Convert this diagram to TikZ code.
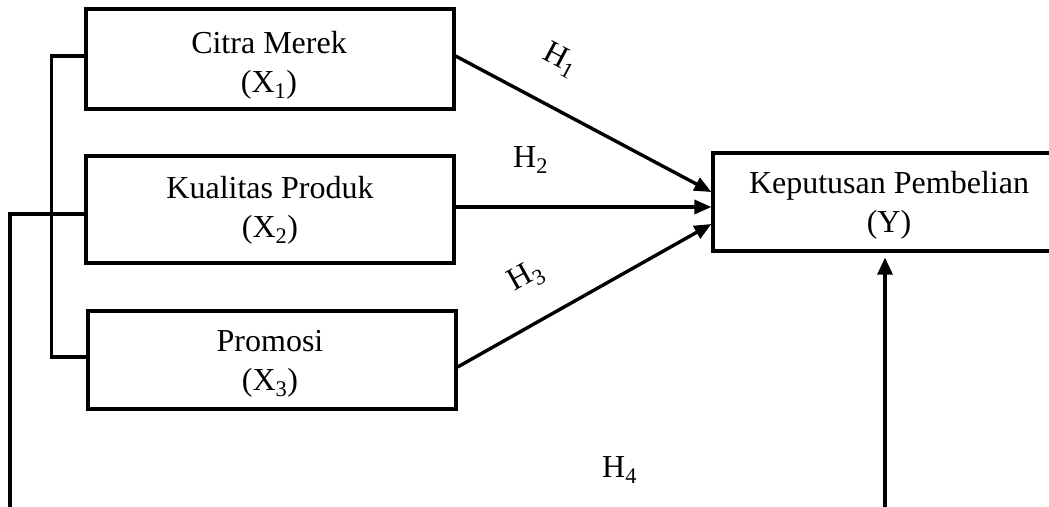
\documentclass[tikz,border=0pt]{standalone}
\usepackage{fontspec}
\setmainfont{Liberation Serif}
\usetikzlibrary{arrows.meta,calc}
\begin{document}
\begin{tikzpicture}[x=1pt,y=-1pt,
  box/.style={draw, rectangle, line width=3.2pt, minimum width=368pt, inner sep=0pt},
  txt/.style={align=center, font=\fontsize{32}{39}\selectfont, inner sep=0pt},
  hlab/.style={font=\fontsize{32}{39}\selectfont, inner sep=0pt},
  conn/.style={line width=3.2pt},
  arr/.style={line width=3.4pt, -{Triangle[length=17pt,width=14pt]}},
  varr/.style={line width=3.2pt, -{Triangle[length=17pt,width=15pt]}}]
\useasboundingbox (0,0) rectangle (1049,506);
% boxes
\node[box, minimum height=100pt] (x1) at (270,59) {};
\node[box, minimum height=107pt] (x2) at (270,209.5) {};
\node[box, minimum height=98pt] (x3) at (272,360) {};
\node[box, minimum width=344pt, minimum height=98pt] (y) at (885,202) {};
% texts
\node[txt] (x1t) at (269,65) {Citra Merek\\(X\textsubscript{1})};
\node[txt] (x2t) at (270,210) {Kualitas Produk\\(X\textsubscript{2})};
\node[txt] (x3t) at (270,364) {Promosi\\(X\textsubscript{3})};
\node[txt] (yt) at (889,205) {Keputusan Pembelian\\(Y)};
% arrows to Y
\draw[arr] ($(x1.east)+(0,-3)$) -- ($(y.west)+(0,-10)$);
\draw[arr] ($(x2.east)+(0,-2.5)$) -- ($(y.west)+(0,5)$);
\draw[arr] ($(x3.east)+(0,7)$) -- ($(y.west)+(0,22)$);
% left connectors
\draw[conn] ($(x1.west)+(0,-3)$) -- ++(-33,0) |- ($(x3.west)+(0,-3)$);
\coordinate (lb) at (10,512);
\draw[conn, line width=3.6pt] ($(x2.west)+(0,4.5)$) -| (lb);
% bottom arrow
\coordinate (rb) at (885,512);
\draw[varr, shorten >=5pt] (rb) -- (y.south);
% labels
\node[hlab, rotate=-28] (h1) at (560,60) {H\textsubscript{1}};
\node[hlab, anchor=base west] (h2) at (513,167) {H\textsubscript{2}};
\node[hlab, rotate=29] (h3) at (526,277) {H\textsubscript{3}};
\node[hlab, anchor=base west] (h4) at (602,477) {H\textsubscript{4}};
\end{tikzpicture}
\end{document}
